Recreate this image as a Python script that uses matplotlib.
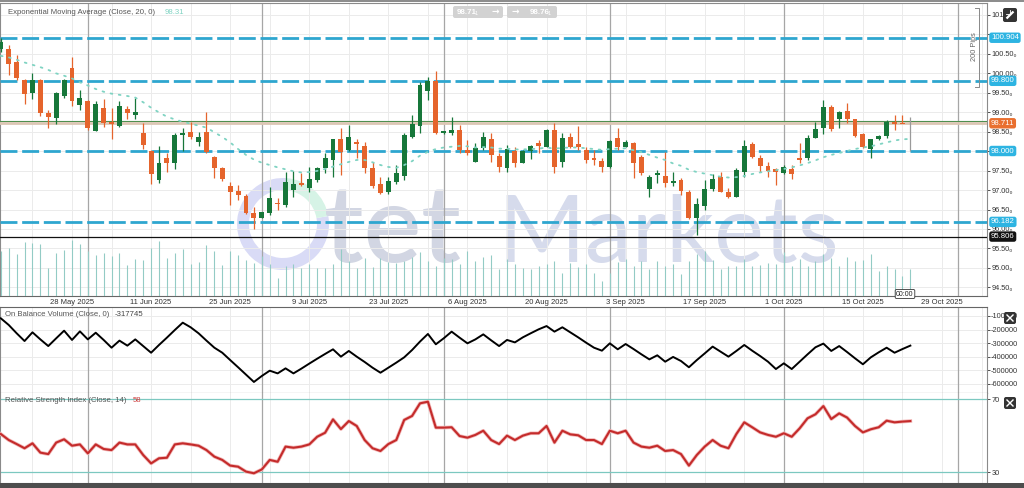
import numpy as np
import pandas as pd
import matplotlib
matplotlib.use("Agg")
import matplotlib.pyplot as plt
from matplotlib.patches import Wedge, FancyBboxPatch, Rectangle
from matplotlib.lines import Line2D
from matplotlib.transforms import IdentityTransform, blended_transform_factory
import matplotlib.patheffects as pe

plt.rcParams['font.family'] = ['Liberation Sans', 'DejaVu Sans']

# ---------------- data ----------------
start_date, end_date = "2025-05-15", "2025-10-23"
dates = pd.bdate_range(start_date, end_date)

opens = [100.62, 100.61, 100.27, 99.82, 99.50, 99.82, 98.98, 98.85, 99.41, 100.12,
         99.18, 99.28, 98.51, 99.09, 98.75, 98.64, 99.07, 98.92, 98.47, 98.00,
         97.26, 97.83, 97.70, 98.41, 98.48, 98.24, 98.50, 97.84, 97.57, 97.11,
         96.97, 96.85, 96.40, 96.29, 96.40, 96.66, 96.62, 97.00, 97.19, 97.06,
         97.26, 97.57, 97.77, 98.32, 98.02, 98.22, 98.13, 97.57, 97.15, 96.96,
         97.20, 97.37, 98.37, 98.65, 99.55, 99.80, 98.45, 98.45, 98.54, 98.02,
         97.73, 98.07, 98.32, 97.87, 97.56, 98.01, 97.70, 98.00, 98.20, 98.11,
         98.54, 97.71, 98.37, 98.17, 98.02, 97.81, 97.74, 97.60, 98.33, 98.11,
         98.20, 97.84, 97.02, 97.38, 97.37, 97.17, 97.26, 96.96, 96.27, 96.58,
         97.03, 97.34, 96.96, 96.81, 97.47, 98.18, 97.83, 97.62, 97.53, 97.43,
         97.53, 97.83, 97.81, 98.34, 98.58, 99.14, 98.81, 99.03, 98.81, 98.43,
         98.05, 98.30, 98.38, 98.75, 98.72, 98.71]
highs = [100.90, 100.72, 100.46, 99.85, 100.00, 99.85, 99.05, 99.52, 99.85, 100.42,
         99.57, 99.30, 99.27, 99.33, 99.09, 99.28, 99.15, 99.37, 98.73, 98.03,
         98.14, 97.94, 98.45, 98.58, 98.75, 98.48, 99.01, 97.88, 97.60, 97.21,
         97.13, 96.91, 96.57, 96.44, 97.07, 96.79, 97.47, 97.49, 97.43, 97.60,
         97.60, 97.94, 98.32, 98.58, 98.67, 98.31, 98.24, 97.73, 97.34, 97.34,
         97.64, 98.45, 98.92, 99.78, 99.91, 100.06, 98.52, 98.88, 98.67, 98.28,
         98.20, 98.50, 98.45, 97.94, 98.15, 98.11, 98.03, 98.15, 98.28, 98.56,
         98.71, 98.45, 98.45, 98.65, 98.11, 98.02, 97.81, 98.28, 98.58, 98.28,
         98.24, 97.90, 97.38, 97.51, 97.98, 97.47, 97.30, 97.00, 96.79, 97.26,
         97.40, 97.47, 97.04, 97.56, 98.28, 98.24, 97.90, 97.73, 97.56, 97.64,
         97.64, 98.21, 98.41, 98.75, 99.31, 99.18, 99.03, 99.22, 98.81, 98.45,
         98.32, 98.41, 98.79, 98.92, 98.92, 98.88]
lows = [100.55, 99.95, 99.82, 99.20, 99.33, 98.91, 98.60, 98.68, 99.35, 99.16,
        99.05, 98.54, 98.51, 98.62, 98.31, 98.62, 98.81, 98.82, 98.04, 97.15,
        97.17, 97.47, 97.54, 98.00, 98.32, 98.14, 97.94, 97.30, 97.23, 96.62,
        96.74, 96.38, 96.00, 96.27, 96.36, 96.49, 96.57, 96.83, 97.09, 96.96,
        97.21, 97.43, 97.34, 97.38, 98.00, 97.81, 97.43, 97.04, 96.89, 96.89,
        97.15, 97.26, 98.33, 98.45, 99.31, 98.43, 98.43, 98.41, 97.94, 97.90,
        97.73, 98.03, 97.73, 97.47, 97.47, 97.60, 97.68, 97.79, 97.94, 98.09,
        97.43, 97.60, 98.07, 98.03, 97.68, 97.64, 97.47, 97.57, 98.03, 98.09,
        97.32, 97.38, 96.83, 97.17, 97.07, 97.09, 96.87, 96.26, 95.85, 96.49,
        96.98, 96.96, 96.80, 96.81, 97.34, 97.81, 97.47, 97.34, 97.13, 97.40,
        97.28, 97.68, 97.77, 98.33, 98.43, 98.51, 98.58, 98.71, 98.37, 98.07,
        97.81, 98.28, 98.33, 98.54, 98.71, 97.99]
closes = [100.80, 100.22, 99.88, 99.45, 99.82, 98.97, 98.86, 99.50, 99.82, 99.27,
          99.37, 98.60, 99.21, 98.71, 98.68, 99.15, 98.98, 99.01, 98.15, 97.40,
          97.69, 97.68, 98.41, 98.45, 98.35, 98.35, 97.98, 97.57, 97.28, 96.94,
          96.87, 96.40, 96.29, 96.43, 96.79, 96.64, 97.21, 97.15, 97.14, 97.27,
          97.56, 97.81, 98.32, 97.98, 98.35, 98.18, 97.57, 97.09, 96.93, 97.23,
          97.43, 98.41, 98.68, 99.69, 99.80, 98.45, 98.51, 98.54, 98.03, 97.94,
          98.08, 98.35, 97.90, 97.60, 98.05, 97.70, 98.00, 98.13, 98.14, 98.54,
          97.60, 98.34, 98.11, 98.09, 97.77, 97.77, 97.60, 98.26, 98.11, 98.24,
          97.68, 97.43, 97.34, 97.43, 97.17, 97.23, 96.98, 96.27, 96.63, 97.03,
          97.29, 96.96, 96.81, 97.51, 98.13, 97.85, 97.62, 97.49, 97.45, 97.60,
          97.41, 97.77, 98.33, 98.56, 99.14, 98.56, 99.00, 98.81, 98.39, 98.11,
          98.30, 98.38, 98.75, 98.68, 98.70, 98.71]
volume = [45, 48, 42, 54, 53, 52, 28, 43, 46, 56, 52, 45, 41, 43, 40, 43, 31, 37, 36, 48,
          55, 38, 43, 47, 32, 34, 51, 45, 31, 45, 41, 36, 33, 40, 32, 18, 30, 32, 28, 32,
          28, 28, 32, 47, 35, 28, 38, 29, 38, 34, 33, 35, 39, 44, 35, 30, 38, 37, 32, 45,
          35, 39, 41, 27, 37, 32, 28, 27, 30, 32, 35, 23, 33, 29, 32, 23, 15, 23, 34, 37,
          30, 35, 27, 35, 30, 32, 22, 35, 42, 45, 36, 27, 30, 30, 37, 30, 31, 33, 32, 44,
          30, 37, 30, 35, 42, 38, 30, 39, 35, 36, 42, 25, 30, 27, 20, 27]
ema20 = [100.44, 100.40, 100.34, 100.27, 100.21, 100.15, 100.08, 99.99, 99.93, 99.86,
         99.76, 99.68, 99.59, 99.52, 99.47, 99.44, 99.41, 99.37, 99.25, 99.11,
         98.99, 98.88, 98.81, 98.75, 98.70, 98.65, 98.60, 98.48, 98.36, 98.22,
         98.05, 97.90, 97.78, 97.70, 97.64, 97.58, 97.53, 97.48, 97.45, 97.46,
         97.49, 97.54, 97.60, 97.66, 97.72, 97.77, 97.77, 97.71, 97.64, 97.59,
         97.57, 97.64, 97.74, 97.88, 97.98, 98.05, 98.09, 98.11, 98.13, 98.12,
         98.09, 98.10, 98.09, 98.06, 98.06, 98.04, 98.04, 98.05, 98.06, 98.09,
         98.06, 98.08, 98.09, 98.09, 98.07, 98.05, 98.03, 98.05, 98.06, 98.07,
         98.02, 97.97, 97.90, 97.83, 97.77, 97.68, 97.62, 97.52, 97.46, 97.42,
         97.38, 97.34, 97.32, 97.33, 97.36, 97.41, 97.45, 97.48, 97.51, 97.54,
         97.58, 97.63, 97.69, 97.76, 97.84, 97.90, 97.95, 98.00, 98.05, 98.09,
         98.12, 98.17, 98.22, 98.27, 98.30, 98.31]
obv = [-117000, -166000, -227000, -284000, -220000, -272000, -321000, -264000, -208000, -276000,
       -213000, -272000, -223000, -276000, -333000, -281000, -318000, -272000, -321000, -370000,
       -313000, -259000, -203000, -149000, -183000, -227000, -281000, -333000, -370000, -424000,
       -477000, -531000, -585000, -541000, -502000, -522000, -485000, -522000, -487000, -450000,
       -414000, -379000, -345000, -399000, -357000, -399000, -438000, -480000, -517000, -480000,
       -443000, -404000, -350000, -288000, -232000, -308000, -264000, -215000, -259000, -301000,
       -272000, -235000, -279000, -321000, -276000, -294000, -257000, -227000, -198000, -174000,
       -215000, -183000, -220000, -257000, -296000, -333000, -355000, -301000, -345000, -306000,
       -343000, -382000, -419000, -389000, -436000, -401000, -431000, -477000, -424000, -375000,
       -325000, -362000, -399000, -357000, -313000, -355000, -394000, -436000, -490000, -448000,
       -490000, -436000, -382000, -330000, -303000, -357000, -321000, -365000, -411000, -455000,
       -404000, -367000, -333000, -370000, -343000, -317745]
rsi = [51.0, 47.7, 45.5, 43.2, 45.9, 40.8, 40.0, 46.3, 48.1, 44.6,
       45.3, 40.4, 45.3, 42.8, 42.2, 46.3, 45.3, 45.3, 39.5, 34.9,
       37.7, 38.0, 45.3, 45.9, 45.3, 44.6, 42.2, 38.6, 36.8, 33.7,
       33.1, 30.4, 29.5, 31.6, 36.8, 35.8, 44.1, 43.5, 44.1, 45.3,
       49.5, 51.7, 59.0, 53.7, 58.1, 55.4, 47.7, 43.2, 41.7, 45.5,
       47.7, 58.7, 60.9, 67.8, 68.7, 54.5, 54.5, 54.7, 49.9, 49.0,
       50.5, 52.8, 47.7, 45.5, 50.1, 47.7, 50.1, 51.4, 51.4, 55.4,
       46.3, 52.8, 50.8, 50.3, 47.7, 47.7, 45.5, 52.8, 51.4, 52.8,
       46.3, 44.1, 43.5, 44.6, 41.7, 42.2, 40.0, 33.7, 39.5, 44.1,
       47.7, 44.6, 43.2, 51.0, 57.4, 54.7, 51.9, 50.5, 49.5, 51.4,
       49.5, 54.1, 59.6, 61.8, 66.3, 59.2, 62.3, 60.0, 55.4, 51.9,
       53.6, 54.7, 58.3, 57.4, 57.8, 58.1]

price_ticks = [94.5, 95.0, 95.5, 96.0, 96.5, 97.0, 97.5, 98.0, 98.5, 99.0,
               99.5, 100.0, 100.5, 101.0, 101.5]
hidden_price_labels = [101.0]   # covered by the 100.904 marker in the reference
obv_ticks = [-100000, -200000, -300000, -400000, -500000, -600000]
rsi_levels = [30, 70]
level_lines = [100.904, 99.800, 98.000, 96.182]
bid_price, ask_price = 98.711, 98.76
low_mark = 95.806
ema_last, obv_last, rsi_last = "98.31", "-317745", "58"
label_dates = ["2025-05-28", "2025-06-11", "2025-06-25", "2025-07-09", "2025-07-23",
               "2025-08-06", "2025-08-20", "2025-09-03", "2025-09-17", "2025-10-01",
               "2025-10-15", "2025-10-29"]
month_starts = ["2025-06-01", "2025-07-01", "2025-08-01", "2025-09-01", "2025-10-01", "2025-11-01"]

# ---------------- layout ----------------
W, H = 1024, 488
fig = plt.figure(figsize=(W / 100, H / 100), dpi=100)
fig.patch.set_facecolor("white")


def rect(l, t, r, b):
    return [l / W, 1 - b / H, (r - l) / W, (b - t) / H]


ax = fig.add_axes(rect(0, 3, 987, 296))
ax_obv = fig.add_axes(rect(0, 307, 987, 393))
ax_rsi = fig.add_axes(rect(0, 393, 987, 483))

axis_days = pd.bdate_range(start_date, "2025-11-28")
pos = {d: i for i, d in enumerate(axis_days)}
x = np.arange(len(dates))
XL = (-0.104, 124.69)

UP, DOWN, CUR = "#17773a", "#e5642c", "#9a9a9a"
GRID, MONTH = "#ebebeb", "#a6a6a6"

wednesdays = pd.date_range("2025-05-21", "2025-11-26", freq="W-WED")
week_pos = [pos[d] for d in wednesdays if d in pos]
month_pos = []
for m in month_starts:
    d = pd.Timestamp(m)
    if d in pos and d.weekday() < 5:
        month_pos.append(pos[d])
    else:
        prev = axis_days[axis_days < d][-1]
        month_pos.append(pos[prev])

for a in (ax, ax_obv, ax_rsi):
    a.set_facecolor("white")
    a.set_xlim(*XL)
    for p in week_pos:
        a.axvline(p, color=GRID, lw=0.7, zorder=0.6)
    for p in month_pos:
        a.axvline(p, color=MONTH, lw=0.9, zorder=1)
    for s in a.spines.values():
        s.set_color("#8a8a8a")
        s.set_linewidth(0.8)

# ---------------- main panel ----------------
ax.set_ylim(94.282, 101.795)
for t in price_ticks:
    ax.axhline(t, color=GRID, lw=0.7, zorder=0.6)

# watermark
idt = IdentityTransform()
ax.add_patch(Wedge((283, H - 224), 46, 85, 370, width=12, transform=idt,
                   fc="#d9dbf6", ec="none", zorder=0.5))
ax.add_patch(Wedge((283, H - 224), 46, 10, 85, width=12, transform=idt,
                   fc="#d6f3e6", ec="none", zorder=0.5))
ax.text(324, H - 262, "tet", transform=idt, fontsize=78, family="Lato",
        weight="semibold", color="#d2d6e3", ha="left", va="baseline", zorder=0.5)
ax.text(497, H - 262, "Markets", transform=idt, fontsize=68, family="Lato",
        weight="normal", color="#d6dbec", ha="left", va="baseline", zorder=0.5)

# level lines
for lv in level_lines:
    ax.axhline(lv, color="#2ea6cf", lw=2.0, ls=(0, (6.1, 1.7)), zorder=3)
ax.axhline(ask_price, color="#4f8f4f", lw=0.8, zorder=3)
ax.axhline(bid_price, color="#dcc6b4", lw=2.0, zorder=3)
ax.axhline(low_mark, color="#111111", lw=0.9, zorder=3)

# volume
axv = ax.twinx()
axv.vlines(x, 0, volume, color="#93cbc5", lw=0.8)
axv.set_ylim(0, 293)
axv.set_xlim(*XL)
axv.set_axis_off()

# candles
o = np.array(opens); c = np.array(closes)
cols = [UP if cc >= oo else DOWN for oo, cc in zip(o, c)]
cols[-1] = CUR
ax.vlines(x, lows, highs, colors=cols, lw=0.9, zorder=4)
body_h = np.maximum(np.abs(c - o), 0.025)
body_b = np.minimum(o, c)
ax.bar(x[:-1], body_h[:-1], bottom=body_b[:-1], width=0.62, color=cols[:-1], lw=0, zorder=5)

# EMA
ax.plot(x, ema20, color="#7fd3c2", lw=1.3, ls=(0, (1, 3.6)), dash_capstyle="round", zorder=6)

# axes ticks
ax.yaxis.tick_right()
ax.set_yticks(price_ticks)
ax.set_yticklabels(["" if t in hidden_price_labels else f"{t:.2f}\u2080" for t in price_ticks])
ax.tick_params(axis="y", length=2, width=0.6, pad=1.5, labelsize=5.3, colors="#333333")
ax.set_xticks([pos[pd.Timestamp(d)] for d in label_dates])
ax.set_xticklabels([f"{pd.Timestamp(d).day} {pd.Timestamp(d).strftime('%b')} {pd.Timestamp(d).year}"
                    for d in label_dates])
ax.tick_params(axis="x", length=0, pad=1.8, labelsize=5.5, colors="#333333")
ax.spines["bottom"].set_color("#666666")

# right-side price boxes
btr = blended_transform_factory(ax.transAxes, ax.transData)
for val, txt, fc in [(100.904, "100.904", "#2db4e2"), (99.800, "99.800", "#2db4e2"),
                     (bid_price, "98.711", "#e96f2f"), (98.000, "98.000", "#2db4e2"),
                     (96.182, "96.182", "#2db4e2"), (low_mark, "95.806", "#111111")]:
    ax.text(1.004, val, txt, transform=btr, fontsize=5.6, color="white", va="center", ha="left",
            bbox=dict(boxstyle="round,pad=0.22,rounding_size=0.3", fc=fc, ec="none"),
            clip_on=False, zorder=10)

# ---------------- OBV panel ----------------
ax_obv.plot(x, obv, color="black", lw=1.4, zorder=5)
ax_obv.set_ylim(-666181, -33823)
for t in obv_ticks:
    ax_obv.axhline(t, color=GRID, lw=0.7, zorder=0.6)
ax_obv.yaxis.tick_right()
ax_obv.set_yticks(obv_ticks)
ax_obv.set_yticklabels([str(t) for t in obv_ticks])
ax_obv.tick_params(axis="y", length=2, width=0.6, pad=1.0, labelsize=5.3, colors="#333333")
ax_obv.tick_params(axis="x", length=0, labelbottom=False)
ax_obv.spines["top"].set_color("#666666")
ax_obv.spines["bottom"].set_color("#555555")

# ---------------- RSI panel ----------------
for lv in rsi_levels:
    ax_rsi.axhline(lv, color="#7cc8c0", lw=0.9, zorder=2)
ax_rsi.plot(x, rsi, color="#c42b2b", lw=1.5, zorder=5,
            path_effects=[pe.Stroke(linewidth=2.6, foreground="#f2b8b8"), pe.Normal()])
ax_rsi.set_ylim(24.16, 73.47)
ax_rsi.yaxis.tick_right()
ax_rsi.set_yticks(rsi_levels)
ax_rsi.set_yticklabels([str(v) for v in rsi_levels])
ax_rsi.tick_params(axis="y", length=2, width=0.6, pad=1.5, labelsize=5.3, colors="#333333")
ax_rsi.tick_params(axis="x", length=0, labelbottom=False)
ax_rsi.spines["top"].set_visible(False)


# ---------------- decorations (pixel coords) ----------------
def ftext(px, py, s, **kw):
    kw.setdefault("va", "center")
    kw.setdefault("ha", "left")
    kw.setdefault("zorder", 40)
    return fig.text(px / W, 1 - py / H, s, **kw)


def fbox(l, t, r, b, fc, rs=2):
    p = FancyBboxPatch((l, H - b), r - l, b - t, boxstyle=f"round,pad=0,rounding_size={rs}",
                       transform=idt, fc=fc, ec="none", zorder=20)
    fig.add_artist(p)


def fline(xs, ys, **kw):
    kw.setdefault("zorder", 35)
    fig.add_artist(Line2D(xs, [H - y for y in ys], transform=idt, **kw))


ftext(8, 12, "Exponential Moving Average (Close, 20, 0)", fontsize=5.6, color="#555555")
ftext(165, 12, ema_last, fontsize=5.6, color="#7fd3c2")
ftext(5, 315, "On Balance Volume (Close, 0)", fontsize=5.6, color="#555555")
ftext(115, 315, obv_last, fontsize=5.6, color="#444444")
ftext(5, 400, "Relative Strength Index (Close, 14)", fontsize=5.6, color="#555555")
ftext(133, 400, rsi_last, fontsize=5.6, color="#d04040")

# bid/ask boxes at top
fbox(453, 6, 503, 18, "#d2d2d2")
fbox(507, 6, 557, 18, "#d2d2d2")
ftext(457, 12.5, "98.71", fontsize=5.8, color="white", weight="bold")
ftext(475, 13.5, "1", fontsize=4, color="white")
ftext(491, 12, "\u2192", fontsize=6.5, color="white", weight="bold", family="DejaVu Sans")
ftext(511, 12, "\u2192", fontsize=6.5, color="white", weight="bold", family="DejaVu Sans")
ftext(530, 12.5, "98.76", fontsize=5.8, color="white", weight="bold")
ftext(548, 13.5, "1", fontsize=4, color="white")

# 200 pips bracket
fline([975, 979, 979, 975], [8, 8, 87, 87], color="#888888", lw=0.7)
ftext(974, 47, "200 Pips", fontsize=5.3, color="#666666", rotation=90, ha="center")

# edit icon (drawn pencil) & close buttons (drawn crosses)
fbox(1003, 8, 1017, 22, "#333333")
fline([1006.5, 1013.5], [18.5, 11.5], color="white", lw=1.6, solid_capstyle="butt")
fline([1006, 1010, 1010], [14, 14, 10], color="white", lw=0.6)
for cy in (318, 403):
    fbox(1004, cy - 6, 1016, cy + 6, "#333333")
    fline([1007, 1013], [cy - 3, cy + 3], color="white", lw=1.0)
    fline([1007, 1013], [cy + 3, cy - 3], color="white", lw=1.0)

# current-bar time marker
ftext(905, 294, "00:00", fontsize=5, color="#222222", ha="center",
      bbox=dict(boxstyle="round,pad=0.15,rounding_size=0.2", fc="white", ec="#333333", lw=0.6))

# frame lines and bottom band
fline([0, W], [1, 1], color="#777777", lw=1.2)
fig.add_artist(Rectangle((0, 0), W, 5, transform=idt, fc="#4d4d4d", ec="none", zorder=30))

fig.savefig("out.png", dpi=100)
